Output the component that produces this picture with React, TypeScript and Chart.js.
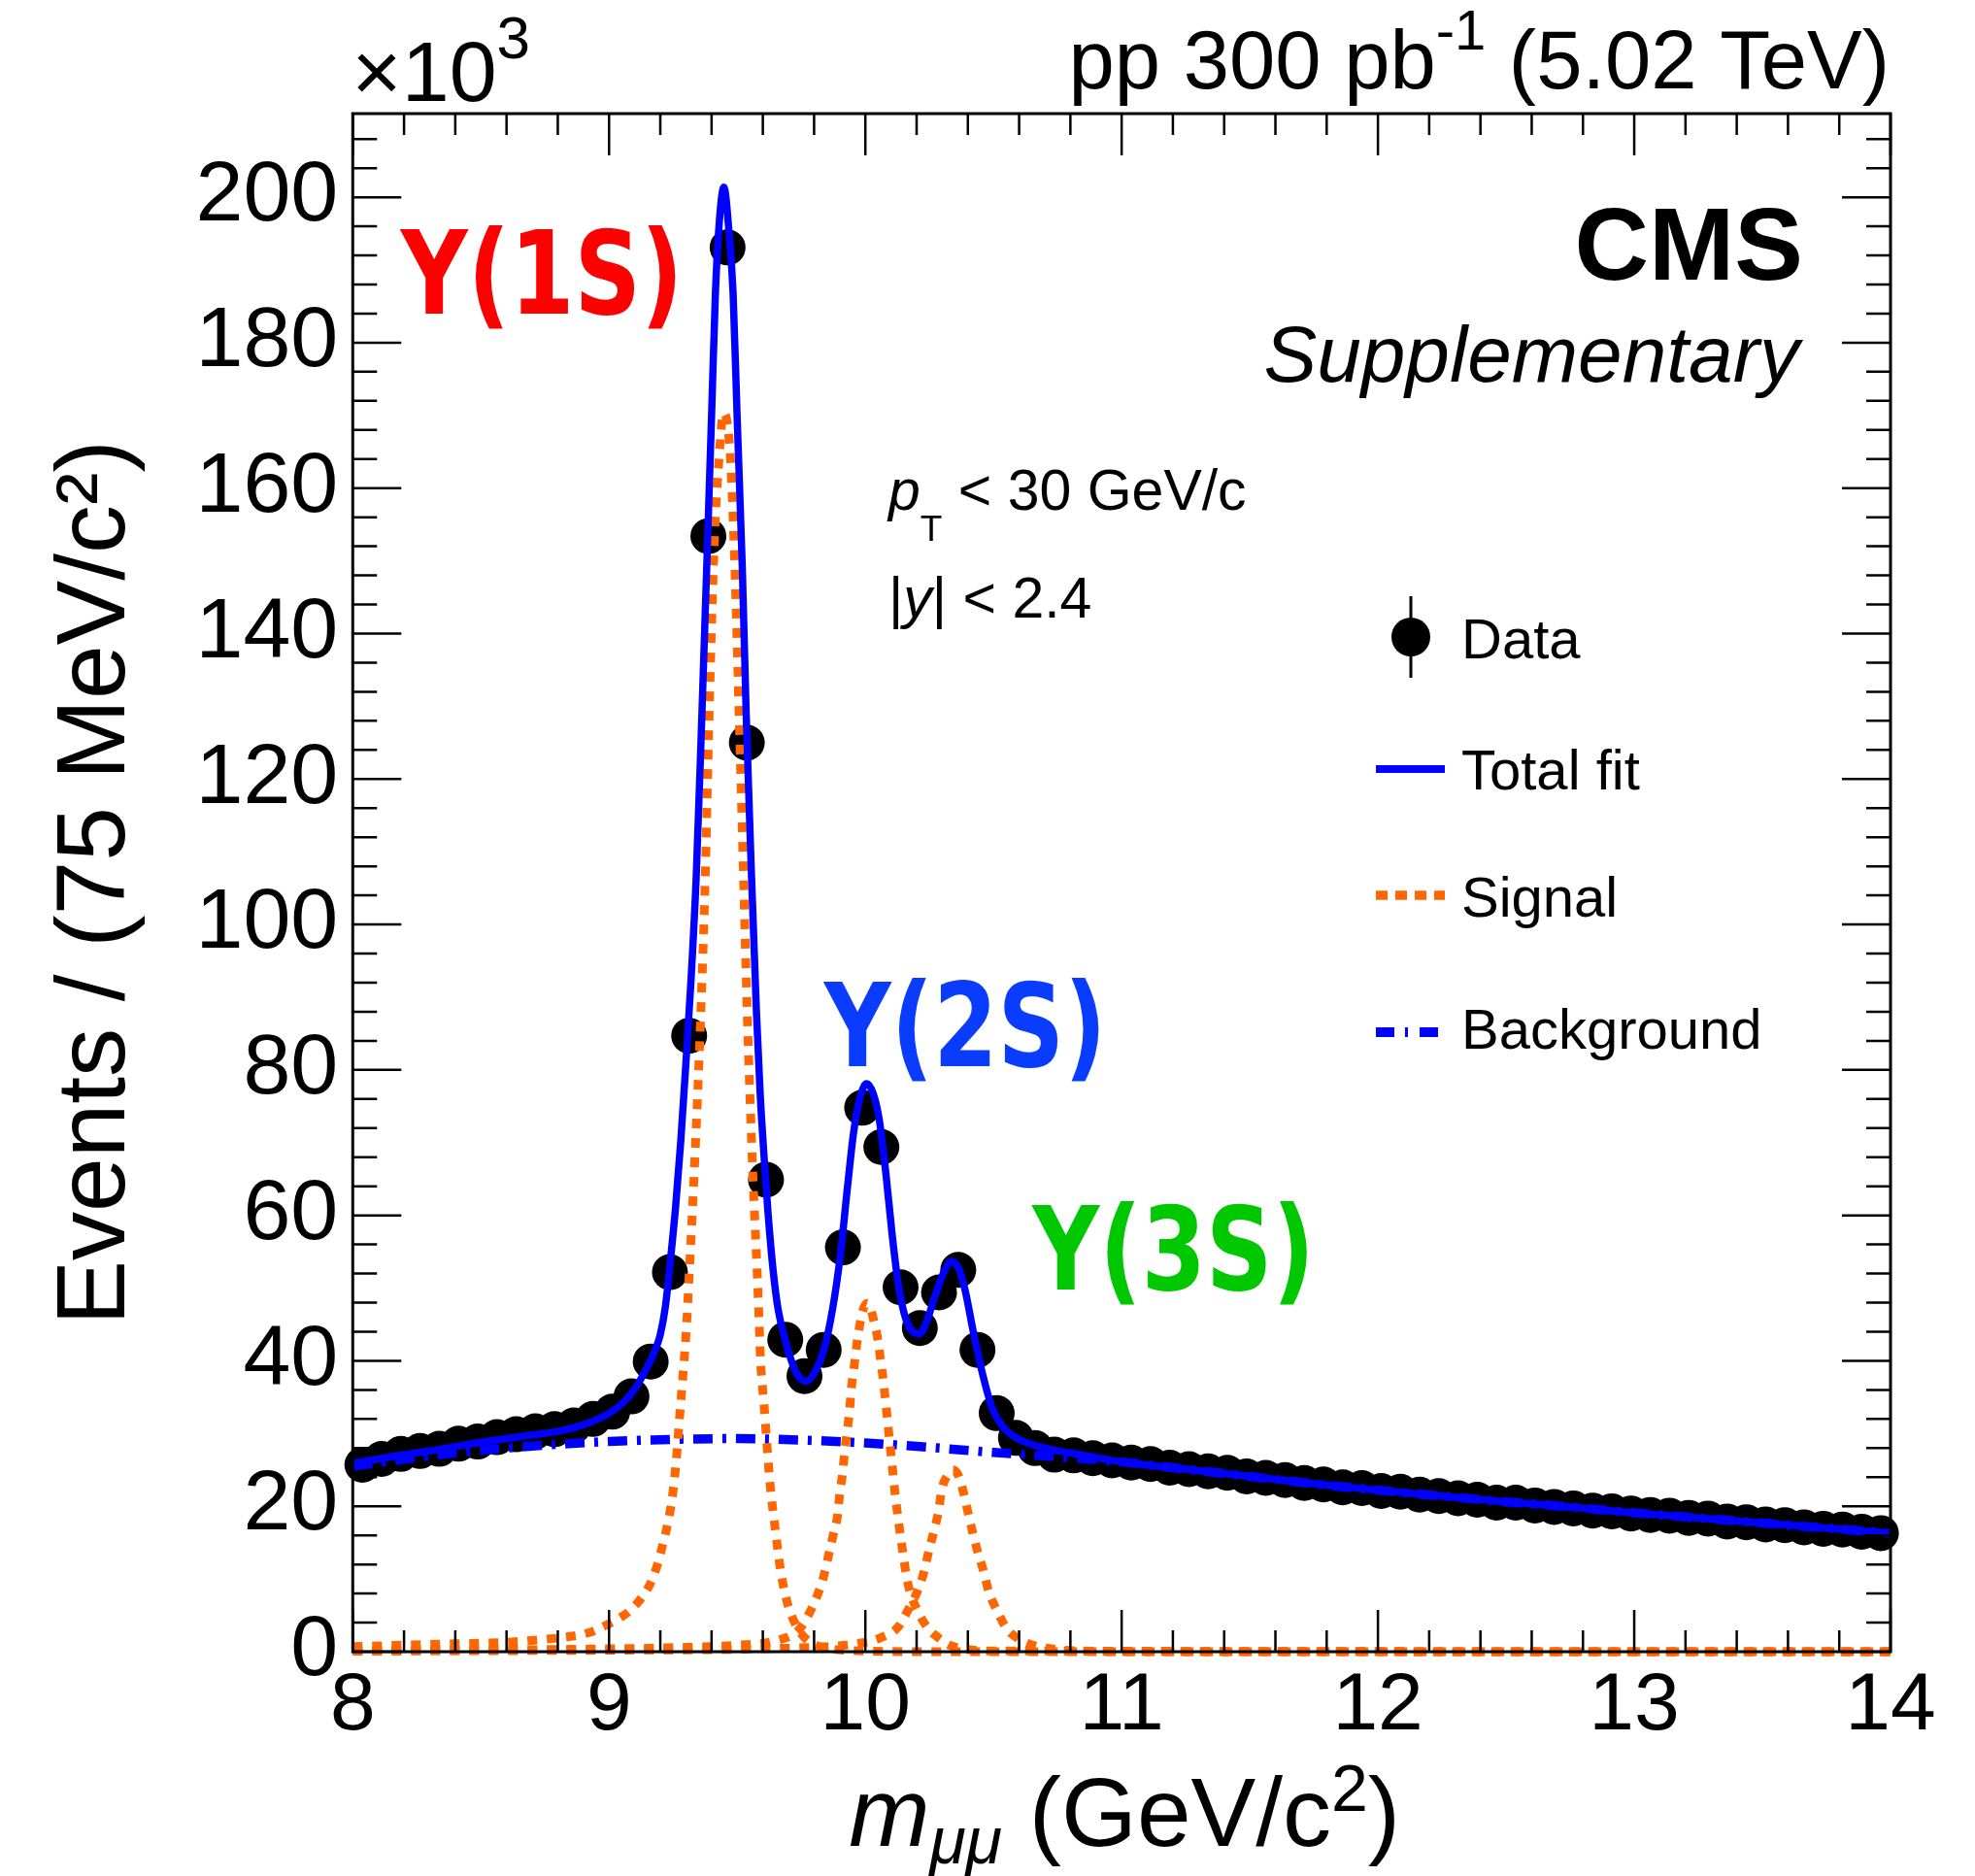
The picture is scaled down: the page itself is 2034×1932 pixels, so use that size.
import React, { useEffect, useRef } from "react";
import { Chart, registerables } from "chart.js";

Chart.register(...registerables);

// ---------------- DATA (values in units of 10^3 events) ----------------
const massBins = [
  8.0375, 8.1125, 8.1875, 8.2625, 8.3375, 8.4125, 8.4875, 8.5625, 8.6375, 8.7125,
  8.7875, 8.8625, 8.9375, 9.0125, 9.0875, 9.1625, 9.2375, 9.3125, 9.3875, 9.4625,
  9.5375, 9.6125, 9.6875, 9.7625, 9.8375, 9.9125, 9.9875, 10.0625, 10.1375, 10.2125,
  10.2875, 10.3625, 10.4375, 10.5125, 10.5875, 10.6625, 10.7375, 10.8125, 10.8875, 10.9625,
  11.0375, 11.1125, 11.1875, 11.2625, 11.3375, 11.4125, 11.4875, 11.5625, 11.6375, 11.7125,
  11.7875, 11.8625, 11.9375, 12.0125, 12.0875, 12.1625, 12.2375, 12.3125, 12.3875, 12.4625,
  12.5375, 12.6125, 12.6875, 12.7625, 12.8375, 12.9125, 12.9875, 13.0625, 13.1375, 13.2125,
  13.2875, 13.3625, 13.4375, 13.5125, 13.5875, 13.6625, 13.7375, 13.8125, 13.8875, 13.9625,
];
const dataEvents = [
  25.7, 26.5, 27.2, 27.6, 27.9, 28.6, 28.9, 29.5, 29.9, 30.3,
  30.6, 31.1, 32.0, 33.0, 35.1, 39.9, 52.2, 84.7, 153.4, 193.1,
  125.0, 64.9, 42.9, 37.9, 41.5, 55.6, 74.8, 69.4, 50.1, 44.5,
  49.4, 52.5, 41.5, 32.8, 29.4, 28.0, 27.1, 27.0, 26.6, 26.3,
  26.0, 25.8, 25.3, 25.1, 24.8, 24.6, 24.1, 23.9, 23.6, 23.2,
  23.0, 22.6, 22.5, 22.1, 22.0, 21.6, 21.4, 21.1, 20.9, 20.5,
  20.5, 20.1, 19.9, 19.7, 19.4, 19.3, 19.0, 18.8, 18.7, 18.4,
  18.3, 17.9, 17.8, 17.5, 17.4, 17.1, 16.9, 16.8, 16.5, 16.3,
];

const fitMass = [
  8.0, 8.1, 8.2, 8.3, 8.4, 8.5, 8.6, 8.7, 8.8, 8.9, 8.95, 9.0, 9.05, 9.1, 9.15, 9.18,
  9.2, 9.22, 9.24, 9.26, 9.28, 9.3, 9.32, 9.34, 9.36, 9.38, 9.4, 9.415, 9.43, 9.448,
  9.467, 9.484, 9.5, 9.52, 9.535, 9.555, 9.575, 9.59, 9.605, 9.62, 9.64, 9.66, 9.69,
  9.73, 9.77, 9.81, 9.845, 9.88, 9.905, 9.93, 9.955, 9.98, 10.005, 10.03, 10.055, 10.08,
  10.105, 10.13, 10.16, 10.185, 10.21, 10.235, 10.27, 10.31, 10.336, 10.365, 10.39,
  10.42, 10.46, 10.495, 10.54, 10.6, 10.69, 10.8, 10.9, 11.0, 11.25, 11.5, 11.75, 12.0,
  12.25, 12.5, 12.75, 13.0, 13.25, 13.5, 13.75, 14.0,
];
const fitTotal = [
  25.9, 26.5, 27.1, 27.6, 28.2, 28.8, 29.3, 29.8, 30.3, 31.2, 31.9, 32.8, 34.1, 36.1, 39.2, 41.5,
  43.6, 47.5, 54.0, 61.3, 70.3, 81.0, 92.5, 106.5, 126.5, 148.0, 170.0, 186.8, 196.5, 201.4,
  195.7, 186.8, 169.5, 149.0, 129.0, 107.5, 88.0, 76.5, 68.0, 60.5, 52.5, 47.0, 42.5,
  38.4, 37.2, 38.9, 42.4, 48.8, 55.3, 63.8, 71.6, 76.3, 78.1, 76.8, 73.0, 65.8,
  57.2, 50.2, 45.5, 44.0, 43.7, 45.0, 48.7, 52.5, 53.7, 52.6, 49.6,
  44.2, 37.8, 33.5, 30.8, 29.2, 28.1, 27.3, 26.7, 26.1, 25.1, 24.1, 23.1, 22.2,
  21.4, 20.6, 19.9, 19.1, 18.4, 17.7, 17.0, 16.3,
];

const bkgMass = [
  8.0, 8.25, 8.5, 8.75, 9.0, 9.25, 9.5, 9.75, 10.0, 10.25, 10.5, 10.75, 11.0,
  11.25, 11.5, 11.75, 12.0, 12.25, 12.5, 12.75, 13.0, 13.25, 13.5, 13.75, 14.0,
];
const bkgValues = [
  25.5, 26.7, 27.7, 28.4, 28.9, 29.2, 29.3, 29.1, 28.7, 28.1, 27.4, 26.8, 26.1,
  25.1, 24.1, 23.1, 22.2, 21.4, 20.6, 19.9, 19.1, 18.4, 17.7, 17.0, 16.3,
];

const sig1Mass = [
  8.0, 8.2, 8.4, 8.6, 8.75, 8.85, 8.92, 8.98, 9.03, 9.08, 9.12, 9.16, 9.19, 9.21, 9.23,
  9.245, 9.255, 9.265, 9.275, 9.288, 9.3, 9.313, 9.335, 9.357, 9.375, 9.389, 9.41, 9.427,
  9.447, 9.471, 9.49, 9.509, 9.525, 9.54, 9.56, 9.578, 9.585, 9.591, 9.604, 9.616, 9.629,
  9.648, 9.667, 9.692, 9.73, 9.78, 9.85, 10.0, 10.3, 14.0,
];
const sig1Values = [
  0.7, 0.9, 1.1, 1.3, 1.7, 2.1, 2.6, 3.5, 4.4, 5.6, 7.1, 9.3, 12.1, 14.8, 17.8,
  20.8, 23.7, 27.5, 32.1, 37.9, 43.5, 52.1, 68.0, 86.8, 106.0, 126.8, 152.0, 163.0,
  170.3, 165.5, 150.0, 126.8, 106.0, 86.8, 66.5, 52.1, 45.9, 40.1, 34.3, 28.5, 22.8,
  17.0, 11.7, 7.2, 3.6, 1.4, 0.5, 0.1, 0.0, 0.0,
];

const sig2Mass = [
  8.0, 8.5, 9.0, 9.3, 9.5, 9.65, 9.74, 9.78, 9.812, 9.837, 9.856, 9.875, 9.892, 9.9,
  9.911, 9.919, 9.929, 9.938, 9.945, 9.955, 9.964, 9.976, 9.99, 10.005, 10.02, 10.035,
  10.045, 10.058, 10.071, 10.083, 10.102, 10.119, 10.14, 10.166, 10.21, 10.25, 10.286,
  10.336, 10.4, 10.5, 14.0,
];
const sig2Values = [
  0.1, 0.2, 0.4, 0.6, 0.9, 1.5, 3.0, 5.2, 7.7, 10.3, 13.2, 16.1, 18.8, 21.7,
  24.5, 27.4, 30.3, 33.0, 36.1, 38.8, 41.6, 44.5, 46.9, 47.9, 47.2, 45.2,
  43.7, 40.5, 37.0, 33.0, 26.5, 20.8, 15.2, 9.4, 5.2, 3.0, 1.9,
  0.8, 0.3, 0.1, 0.0,
];

const sig3Mass = [
  8.0, 9.0, 9.6, 9.894, 9.983, 10.058, 10.128, 10.166, 10.203, 10.229, 10.248, 10.267,
  10.286, 10.298, 10.32, 10.342, 10.362, 10.38, 10.399, 10.418, 10.437, 10.462, 10.481,
  10.513, 10.551, 10.601, 10.664, 10.75, 10.85, 11.0, 14.0,
];
const sig3Values = [
  0.1, 0.2, 0.4, 0.8, 1.2, 1.9, 3.4, 5.7, 8.3, 11.0, 13.9, 16.5,
  19.4, 22.3, 24.2, 25.0, 24.3, 22.3, 19.4, 16.5, 13.9, 11.0, 8.3,
  5.7, 3.2, 1.7, 0.8, 0.3, 0.1, 0.0, 0.0,
];

const xTickLabels = ["8", "9", "10", "11", "12", "13", "14"];
const yTickLabels = ["0", "20", "40", "60", "80", "100", "120", "140", "160", "180", "200"];

const stateLabels = ["\u03A5(1S)", "\u03A5(2S)", "\u03A5(3S)"];
const stateColors = ["#ff0000", "#0a3cff", "#00c800"];
const stateMass = [8.738, 10.39, 11.203];
const stateLevel = [189.7, 86.3, 55.5];

const legendLabels = ["Data", "Total fit", "Signal", "Background"];

// ---------------- STYLE ----------------
const FONT = "'Liberation Sans', Arial, Helvetica, sans-serif";
const BLUE = "#0000ff";
const ORANGE = "#ff6600";
const SIG_DASH = [10, 10];
const BKG_DASH = [20, 10, 4, 10];

type Part = { t: string; f: string; dy?: number };

function drawParts(
  ctx: CanvasRenderingContext2D,
  parts: Part[],
  x: number,
  y: number,
  align: "left" | "right" | "center"
) {
  const widths = parts.map((p) => {
    ctx.font = p.f;
    return ctx.measureText(p.t).width;
  });
  const total = widths.reduce((a, b) => a + b, 0);
  let cx = align === "left" ? x : align === "right" ? x - total : x - total / 2;
  ctx.textAlign = "left";
  ctx.textBaseline = "alphabetic";
  parts.forEach((p, i) => {
    ctx.font = p.f;
    ctx.fillText(p.t, cx, y + (p.dy || 0));
    cx += widths[i];
  });
}

const rootPlugin = {
  id: "rootStyle",
  afterDraw(chart: any) {
    const ctx: CanvasRenderingContext2D = chart.ctx;
    const xs = chart.scales.x;
    const ys = chart.scales.y;
    const { left, right, top, bottom } = chart.chartArea;
    ctx.save();

    // inward ticks on all four sides
    ctx.strokeStyle = "#000";
    ctx.lineWidth = 2.5;
    ctx.setLineDash([]);
    ctx.beginPath();
    for (let i = 0; i <= 30; i++) {
      const v = 8 + i * 0.2;
      const p = xs.getPixelForValue(v);
      const len = i % 5 === 0 ? 43 : 22;
      ctx.moveTo(p, bottom);
      ctx.lineTo(p, bottom - len);
      ctx.moveTo(p, top);
      ctx.lineTo(p, top + len);
    }
    for (let i = 0; i * 4 <= 211.5; i++) {
      const v = i * 4;
      const p = ys.getPixelForValue(v);
      const len = i % 5 === 0 ? 50 : 25;
      ctx.moveTo(left, p);
      ctx.lineTo(left + len, p);
      ctx.moveTo(right, p);
      ctx.lineTo(right - len, p);
    }
    ctx.stroke();
    ctx.lineWidth = 3;
    ctx.strokeRect(left, top, right - left, bottom - top);

    ctx.fillStyle = "#000";
    // exponent
    drawParts(ctx, [
      { t: "\u00D710", f: `88px ${FONT}` },
      { t: "3", f: `62px ${FONT}`, dy: -44 },
    ], left - 1, 104, "left");
    // lumi header
    drawParts(ctx, [
      { t: "pp 300 pb", f: `85px ${FONT}` },
      { t: "-1", f: `58px ${FONT}`, dy: -40 },
      { t: " (5.02 TeV)", f: `85px ${FONT}` },
    ], right - 1, 91, "right");
    // CMS
    drawParts(ctx, [{ t: "CMS", f: `bold 106px ${FONT}` }], 1857, 288, "right");
    drawParts(ctx, [{ t: "Supplementary", f: `italic 82px ${FONT}` }], 1853, 393, "right");
    // cuts
    drawParts(ctx, [
      { t: "p", f: `italic 59px ${FONT}` },
      { t: "T", f: `37px ${FONT}`, dy: 32 },
      { t: " < 30 GeV/c", f: `59px ${FONT}` },
    ], 915, 525, "left");
    drawParts(ctx, [
      { t: "|", f: `59px ${FONT}` },
      { t: "y", f: `italic 59px ${FONT}` },
      { t: "| < 2.4", f: `59px ${FONT}` },
    ], 915, 636, "left");

    // x-axis title
    drawParts(ctx, [
      { t: "m", f: `italic 100px ${FONT}` },
      { t: "\u03BC\u03BC", f: `italic 68px ${FONT}`, dy: 18 },
      { t: " (GeV/c", f: `100px ${FONT}` },
      { t: "2", f: `68px ${FONT}`, dy: -36 },
      { t: ")", f: `100px ${FONT}` },
    ], (left + right) / 2 + 3, 1901, "center");

    // legend
    const lx0 = 1417, lx1 = 1488, tx = 1505, mx = 1453;
    const rows = [656, 792, 922, 1063];
    const textBase = [678, 813, 944, 1080];
    ctx.strokeStyle = "#000";
    ctx.lineWidth = 3;
    ctx.beginPath();
    ctx.moveTo(mx, rows[0] - 42);
    ctx.lineTo(mx, rows[0] + 42);
    ctx.stroke();
    ctx.beginPath();
    ctx.arc(mx, rows[0], 20, 0, Math.PI * 2);
    ctx.fill();
    ctx.lineCap = "butt";
    ctx.lineWidth = 8;
    ctx.strokeStyle = BLUE;
    ctx.beginPath();
    ctx.moveTo(lx0, rows[1]);
    ctx.lineTo(lx1, rows[1]);
    ctx.stroke();
    ctx.lineWidth = 9.5;
    ctx.strokeStyle = ORANGE;
    ctx.setLineDash([12, 8]);
    ctx.beginPath();
    ctx.moveTo(lx0, rows[2]);
    ctx.lineTo(lx1, rows[2]);
    ctx.stroke();
    ctx.lineWidth = 10;
    ctx.strokeStyle = BLUE;
    ctx.setLineDash([19, 11, 3, 12]);
    ctx.beginPath();
    ctx.moveTo(lx0, rows[3]);
    ctx.lineTo(lx1 - 6, rows[3]);
    ctx.stroke();
    ctx.setLineDash([]);
    ctx.fillStyle = "#000";
    legendLabels.forEach((l, i) => {
      drawParts(ctx, [{ t: l, f: `58px ${FONT}` }], tx, textBase[i], "left");
    });

    // Upsilon labels
    stateLabels.forEach((t, i) => {
      const px = xs.getPixelForValue(stateMass[i]);
      const py = ys.getPixelForValue(stateLevel[i]) + 43;
      ctx.save();
      ctx.translate(px, py);
      ctx.scale(0.8, 1);
      ctx.font = `bold 119px 'DejaVu Sans', sans-serif`;
      ctx.textAlign = "center";
      ctx.textBaseline = "alphabetic";
      ctx.fillStyle = stateColors[i];
      ctx.fillText(t, 0, 0);
      ctx.restore();
    });

    ctx.restore();
  },
};

function pts(xs: number[], ys: number[]) {
  return xs.map((x, i) => ({ x, y: ys[i] }));
}

export default function App() {
  const ref = useRef<HTMLCanvasElement | null>(null);

  useEffect(() => {
    if (!ref.current) return;
    const lineBase = {
      type: "line" as const,
      pointRadius: 0,
      fill: false,
      cubicInterpolationMode: "monotone" as const,
      clip: 8,
    };
    const chart = new Chart(ref.current, {
      type: "line",
      data: {
        datasets: [
          {
            ...lineBase,
            label: "Total fit",
            data: pts(fitMass, fitTotal),
            borderColor: BLUE,
            borderWidth: 7.5,
            order: 0,
          },
          {
            ...lineBase,
            label: "Signal 1S",
            data: pts(sig1Mass, sig1Values),
            borderColor: ORANGE,
            borderWidth: 9,
            borderDash: SIG_DASH,
            order: 1,
          },
          {
            ...lineBase,
            label: "Signal 2S",
            data: pts(sig2Mass, sig2Values),
            borderColor: ORANGE,
            borderWidth: 9,
            borderDash: SIG_DASH,
            order: 1,
          },
          {
            ...lineBase,
            label: "Signal 3S",
            data: pts(sig3Mass, sig3Values),
            borderColor: ORANGE,
            borderWidth: 9,
            borderDash: SIG_DASH,
            order: 1,
          },
          {
            ...lineBase,
            label: "Background",
            data: pts(bkgMass, bkgValues),
            borderColor: BLUE,
            borderWidth: 9.5,
            borderDash: BKG_DASH,
            order: 2,
          },
          {
            type: "scatter" as const,
            label: "Data",
            data: pts(massBins, dataEvents),
            showLine: false,
            pointRadius: 18.5,
            pointBackgroundColor: "#000",
            pointBorderWidth: 0,
            borderColor: "#000",
            clip: false as any,
            order: 3,
          },
        ] as any,
      },
      options: {
        animation: false,
        responsive: false,
        devicePixelRatio: 1,
        layout: { padding: { left: 0, top: 117, right: 87, bottom: 0 } },
        plugins: { legend: { display: false }, tooltip: { enabled: false } },
        scales: {
          x: {
            type: "linear",
            min: 8,
            max: 14,
            grid: { display: false, drawTicks: false },
            border: { display: false },
            ticks: {
              stepSize: 1,
              autoSkip: false,
              maxRotation: 0,
              includeBounds: false,
              padding: 6,
              color: "#000",
              font: { family: FONT, size: 84 },
              callback: (v: any) => xTickLabels[Math.round(Number(v)) - 8] ?? "",
            },
            afterFit: (s: any) => {
              s.height = 231;
            },
          },
          y: {
            type: "linear",
            min: 0,
            max: 211.5,
            grid: { display: false, drawTicks: false },
            border: { display: false },
            ticks: {
              stepSize: 20,
              autoSkip: false,
              includeBounds: false,
              padding: 15,
              color: "#000",
              font: { family: FONT, size: 88 },
              callback: (v: any) => yTickLabels[Math.round(Number(v) / 20)] ?? "",
            },
            title: {
              display: true,
              text: "Events / (75 MeV/c\u00B2)",
              color: "#000",
              font: { family: FONT, size: 100 },
              padding: { top: 40, bottom: 0 },
            },
            afterFit: (s: any) => {
              s.width = 363.3;
            },
          },
        },
      } as any,
      plugins: [rootPlugin],
    });
    return () => chart.destroy();
  }, []);

  return (
    <div style={{ position: "absolute", left: 0, top: 0, width: 2034, height: 1932, background: "#fff" }}>
      <canvas ref={ref} width={2034} height={1932} style={{ display: "block" }} />
    </div>
  );
}
